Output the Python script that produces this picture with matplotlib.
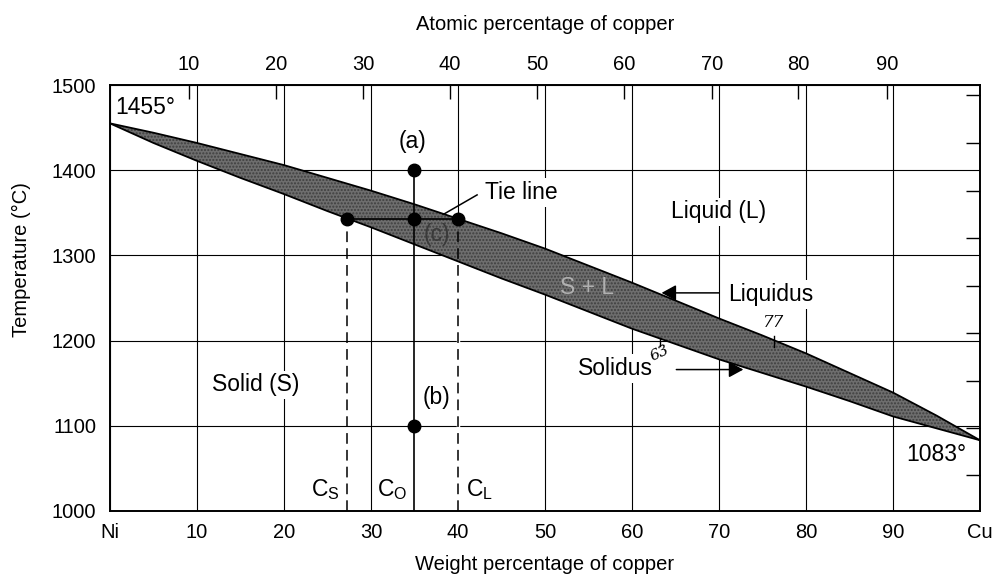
import matplotlib
matplotlib.use("Agg")
import matplotlib.pyplot as plt

plt.rcParams['font.family'] = ['Liberation Sans', 'DejaVu Sans']

# phase boundaries (wt% Cu -> deg C)
wt_pct = [0, 5, 10, 15, 20, 25, 30, 35, 40, 45, 50,
          55, 60, 65, 70, 75, 80, 85, 90, 95, 100]
liquidus_T = [1455, 1444, 1432, 1419, 1406, 1391, 1376, 1360, 1343, 1326, 1308,
              1288, 1268, 1247, 1226, 1206, 1185, 1162, 1139, 1112, 1083]
solidus_T = [1455, 1432, 1411, 1391, 1372, 1352, 1333, 1313, 1293, 1273, 1254,
             1234, 1214, 1196, 1178, 1162, 1146, 1129, 1111, 1097, 1083]

# bottom / top / right axis ticks
wt_ticks = [0, 10, 20, 30, 40, 50, 60, 70, 80, 90, 100]
wt_labels = ['Ni', '10', '20', '30', '40', '50', '60', '70', '80', '90', 'Cu']
atomic_labels = ['10', '20', '30', '40', '50', '60', '70', '80', '90']
atomic_tick_wt = [9.1, 19.1, 29.1, 39.1, 49.1, 59.1, 69.2, 79.1, 89.3]
temp_ticks = [1000, 1100, 1200, 1300, 1400, 1500]
right_ticks = [1042, 1097, 1153, 1209, 1264, 1320, 1376, 1432, 1488]

# alloy example
c_s, c_o, c_l = 27.3, 35.0, 40.0
t_tie = 1343
point_a = (35.0, 1400)
point_b = (35.0, 1100)

fig = plt.figure(figsize=(9.99, 5.81), dpi=100)
ax = fig.add_axes([0.110, 0.1205, 0.871, 0.7332])
ax.set_xlim(0, 100)
ax.set_ylim(1000, 1500)
ax.set_axisbelow(True)

# grid
ax.set_xticks(wt_ticks)
ax.set_xticklabels(wt_labels)
ax.set_yticks(temp_ticks)
ax.grid(True, color='black', linewidth=0.8)
ax.tick_params(axis='both', length=0, labelsize=14.5)
ax.tick_params(axis='x', pad=9)
ax.tick_params(axis='y', pad=10)
for s in ax.spines.values():
    s.set_linewidth(1.4)

# two-phase band
ax.fill_between(wt_pct, solidus_T, liquidus_T, facecolor='#6e6e6e',
                hatch='.....', edgecolor='#3e3e3e', linewidth=0, zorder=1.5)
ax.plot(wt_pct, liquidus_T, color='black', lw=1.3, zorder=2)
ax.plot(wt_pct, solidus_T, color='black', lw=1.3, zorder=2)

# composition lines
ax.plot([c_l, c_l], [1000, t_tie], color='white', lw=2.5, zorder=1.2)
ax.plot([c_s, c_s], [1000, t_tie], color='black', lw=1.1, ls=(0, (7, 4)), zorder=2)
ax.plot([c_l, c_l], [1000, t_tie], color='black', lw=1.1, ls=(0, (7, 4)), zorder=2)
ax.plot([c_o, c_o], [1000, point_a[1]], color='black', lw=1.2, zorder=2)
ax.plot([c_s, c_l], [t_tie, t_tie], color='black', lw=1.2, zorder=2)
ax.plot([point_a[0], c_s, c_o, c_l, point_b[0]],
        [point_a[1], t_tie, t_tie, t_tie, point_b[1]],
        'o', color='black', markersize=9, zorder=4)

white = dict(facecolor='white', edgecolor='none', pad=2)
fs = 16.5
ax.text(0.6, 1474, '1455°', fontsize=fs, va='center', ha='left')
ax.text(95.0, 1066, '1083°', fontsize=fs, va='center', ha='center')
ax.text(34.8, 1434, '(a)', fontsize=fs, va='center', ha='center')
ax.text(37.5, 1133, '(b)', fontsize=fs, va='center', ha='center')
ax.text(37.6, 1324, '(c)', fontsize=fs, va='center', ha='center', color='#3a3a3a', zorder=3)
ax.text(16.8, 1148, 'Solid (S)', fontsize=fs, va='center', ha='center', bbox=white)
ax.text(70.0, 1351, 'Liquid (L)', fontsize=fs, va='center', ha='center', bbox=white)
ax.text(43.1, 1374, 'Tie line', fontsize=fs, va='center', ha='left', bbox=white)
ax.plot([42.2, 38.3], [1371, 1348], color='black', lw=1.1, zorder=3)
ax.text(54.8, 1262, 'S + L', fontsize=fs, va='center', ha='center', color='#b0b0b0', zorder=3)
ax.text(71.0, 1254, 'Liquidus', fontsize=fs, va='center', ha='left', bbox=white)
ax.text(53.8, 1167, 'Solidus', fontsize=fs, va='center', ha='left', bbox=white)
arrow = dict(arrowstyle='-|>,head_length=0.55,head_width=0.3', color='black',
             lw=1.1, mutation_scale=16, shrinkA=0, shrinkB=0)
ax.annotate('', xy=(63.4, 1256), xytext=(70.0, 1256), arrowprops=arrow, zorder=4)
ax.annotate('', xy=(72.8, 1166), xytext=(65.1, 1166), arrowprops=arrow, zorder=4)

# handwritten marks
ax.text(76.3, 1221, '77', fontsize=12, family='DejaVu Serif', style='italic',
        va='center', ha='center')
ax.plot([76.3, 76.3], [1193, 1205], color='black', lw=1.0, zorder=3)
ax.text(63.2, 1185, '63', fontsize=11, family='DejaVu Serif', style='italic',
        va='center', ha='center', rotation=25)
ax.plot([63.2, 63.2], [1194, 1203], color='black', lw=1.0, zorder=3)

ax.text(24.8, 1025, r'C$_\mathregular{S}$', fontsize=fs, va='center', ha='center')
ax.text(32.4, 1025, r'C$_\mathregular{O}$', fontsize=fs, va='center', ha='center')
ax.text(42.5, 1025, r'C$_\mathregular{L}$', fontsize=fs, va='center', ha='center')

ax.set_xlabel('Weight percentage of copper', fontsize=14.5, labelpad=9)
ax.set_ylabel('Temperature (°C)', fontsize=14.5)
ax.yaxis.set_label_coords(-0.091, 0.59)

# top axis: atomic percentage
ax_top = ax.twiny()
ax_top.set_xlim(0, 100)
ax_top.set_xticks(atomic_tick_wt)
ax_top.set_xticklabels(atomic_labels)
ax_top.tick_params(axis='x', direction='in', length=10, width=1.0, labelsize=14.5, pad=8)
ax_top.set_xlabel('Atomic percentage of copper', fontsize=14.5, labelpad=18)
for s in ax_top.spines.values():
    s.set_visible(False)

# right axis: unlabeled ticks
ax_right = ax.twinx()
ax_right.set_ylim(1000, 1500)
ax_right.set_yticks(right_ticks)
ax_right.tick_params(axis='y', direction='in', length=10, width=1.0, labelright=False)
for s in ax_right.spines.values():
    s.set_visible(False)

fig.savefig('out.png', dpi=100)
